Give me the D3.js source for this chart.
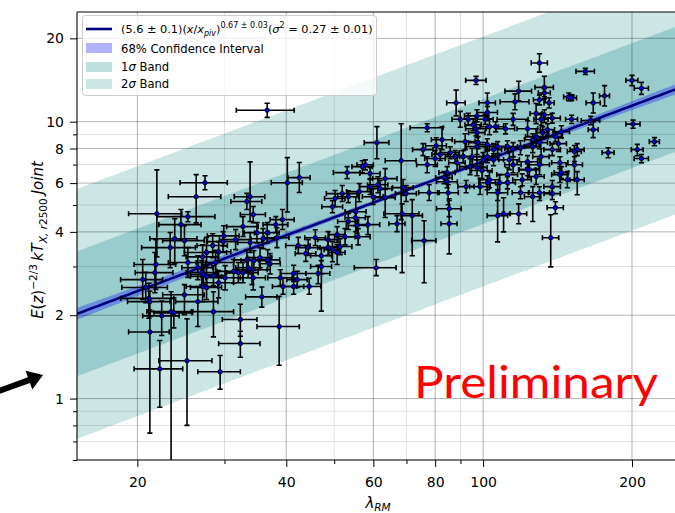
<!DOCTYPE html>
<html>
<head>
<meta charset="utf-8">
<script src="https://cdn.jsdelivr.net/npm/d3@7"></script>
<style>
  body { margin: 0; background: #fff; }
  svg { display: block; }
  text { font-family: "DejaVu Sans", sans-serif; }
</style>
</head>
<body>
<svg id="chart" width="675" height="513"></svg>
<script>
// Cluster richness (lambda_RM) and its error
const lambdaRM = [
  130,161,200,209,176,149,151,118,133,133, 116,130,136,167,165,167,151,201,222,179,
  205,209,96.8,102,102,97.2,101,103,96.8,106, 111,115,123,128,131,133,138,135,144,140,
  128,126,119,115,112,107,105,102,97.2,95.0, 100,113,123,131,138,142,155,153,143,130,
  124,120,112,108,103,98.6,107,119,126,138, 138,143,155,148,97.2,130,107,110,118,140,
  137,88.2,89.9,93.3,95.5,97.2,97.7,92.0,132,153, 144,99.5,102,112,123,128,115,94.1,105,130,
  126,102,92.4,
  77.1,61.0,68.3,63.4,61.3,61.9,59.9,63.4,68.9,69.9, 68.6,71.9,67.0,76.0,85.4,85.4,77.8,85.0,84.6,83.4,
  77.1,80.0,75.6,80.4,82.6,85.8,87.8,91.1,88.6,60.8, 59.1,81.9,84.6,58.5,
  42.5,53.1,57.0,57.8,59.1,56.2,51.9,53.4,50.2,49.6, 55.3,55.2,53.4,45.8,42.3,43.8,47.1,51.4,52.6,50.7,
  48.6,49.6,55.9,41.4,42.1,47.1,46.4,50.7,40.2,44.3, 55.6,38.9,44.5,48.6,41.4,39.4,
  36.6,27.4,26.3,21.9,25.3,33.3,33.8,34.3,38.1,39.3, 32.7,29.9,31.6,33.8,34.9,36.6,36.7,37.1,23.8,23.3,
  24.9,25.3,27.6,28.8,21.8,21.7,20.5,26.5,27.0,31.3, 32.0,32.7,33.5,34.1,34.3,30.1,29.2,27.6,27.1,20.8,
  24.9,27.6,27.2,28.5,29.2,29.8,33.3,34.4,35.4,35.9, 35.7,26.5,21.1,21.2,23.4,23.7,22.4,28.5,32.3,38.7,
  32.3,29.4,25.2,22.2,21.2,24.5,28.4,27.1,38.3
];
const lambdaErr = [
  4.9,6.9,5.6,6.9,4.1,3.5,3.5,7.3,5.7,3.7, 7.8,3.6,3.2,5.5,7.1,3.9,4.2,6.6,5.2,5.0,
  5.7,6.9,4.6,3.9,4.9,5.5,3.8,4.4,4.6,4.0, 4.8,8.3,5.9,3.6,4.3,5.1,5.3,4.5,5.5,4.6,
  6.2,4.8,6.8,4.4,5.4,4.1,4.0,4.9,4.7,5.4, 4.8,5.4,5.9,5.0,5.3,5.4,5.1,5.8,5.4,6.2,
  6.0,5.2,5.4,4.7,4.9,4.7,5.1,4.5,4.8,5.2, 5.3,5.4,5.1,4.9,4.7,6.2,5.1,3.1,4.5,5.3,
  5.2,3.8,3.4,3.1,3.6,3.7,4.2,4.4,3.7,5.0, 4.8,4.8,3.9,4.2,4.7,4.9,4.4,4.5,5.0,5.0,
  4.8,4.9,3.5,
  5.9,3.5,4.9,3.6,2.9,3.5,2.9,3.0,3.3,3.4, 5.6,3.5,2.5,4.3,3.2,4.9,3.7,4.1,4.1,3.2,
  3.7,3.8,3.6,3.9,4.0,3.7,3.8,3.9,3.4,5.9, 2.8,3.1,3.2,3.3,
  2.2,3.3,2.7,2.2,2.8,3.2,3.7,2.6,2.4,2.4, 2.7,2.6,2.6,2.2,2.4,2.1,2.3,2.9,2.5,1.9,
  2.3,1.9,3.2,2.4,2.0,2.3,2.6,1.9,2.9,2.5, 2.7,2.2,2.5,2.3,2.0,1.9,
  4.9,3.0,3.2,2.7,3.4,2.4,2.4,2.0,2.2,2.2, 2.4,2.2,2.3,1.9,2.0,2.1,2.1,1.8,2.6,2.9,
  2.4,2.2,2.7,2.5,2.1,1.9,2.0,1.9,1.9,2.3, 1.8,2.4,1.9,2.5,2.0,2.6,2.1,2.0,2.0,2.2,
  2.4,2.0,1.6,1.6,1.7,2.1,1.9,2.0,2.0,2.0, 2.6,2.6,2.6,2.1,2.5,2.1,1.9,2.8,2.6,3.8,
  3.1,2.9,3.1,2.5,2.0,2.4,2.0,2.0,2.2
];
// Scaled temperature E(z)^-2/3 kT (keV) with lower / upper errors
const kT = [
  16.3,15.2,14.1,13.2,12.4,12.3,12.2,12.9,13.3,12.7, 11.8,12.0,11.7,11.7,10.1,9.36,10.2,9.8,8.47,7.73,
  7.93,7.36,14.1,11.7,10.8,10.5,10.2,9.59,9.43,9.59, 9.43,10.2,9.43,10.7,10.2,10.6,10.3,9.36,9.2,8.83,
  8.83,8.61,8.06,7.99,8.13,8.13,7.93,8.26,8.13,7.48, 7.29,7.29,7.17,7.48,7.93,8.33,7.93,6.99,7.11,6.99,
  6.71,6.17,6.44,6.02,6.17,5.83,5.54,5.54,5.36,5.50, 5.83,6.44,6.17,6.17,6.82,5.54,4.58,4.65,4.65,4.89,
  3.81,11.7,10.2,10.2,9.75,9.13,8.40,8.47,9.13,7.80, 6.55,6.66,6.02,6.02,6.71,6.34,6.99,6.88,7.29,8.40,
  8.13,7.48,5.83,
  9.51,8.40,7.23,6.23,5.92,5.73,5.36,5.32,5.78,5.50, 4.65,4.58,4.28,3.72,4.28,4.85,5.54,5.54,6.07,6.28,
  6.99,7.36,7.93,8.19,8.61,7.73,7.48,7.48,7.11,2.97, 5.83,7.61,6.55,4.25,
  6.28,6.55,6.88,6.99,6.50,5.59,5.50,5.36,5.28,4.93, 4.73,4.50,4.36,3.81,3.57,3.34,3.28,3.54,3.84,3.91,
  3.75,3.45,3.84,2.83,2.69,3.00,2.83,3.37,6.02,3.51, 4.22,2.73,2.54,3.51,2.54,2.54,
  11.0,6.02,5.36,4.65,4.54,5.15,5.36,4.62,4.25,4.43, 4.18,3.87,3.75,3.66,3.97,3.97,3.17,3.07,3.78,3.51,
  3.72,3.10,3.37,3.10,3.05,2.85,2.69,2.97,2.85,2.88, 2.85,2.85,2.97,2.92,2.73,2.73,2.62,2.76,2.54,2.52,
  2.37,2.52,2.80,2.78,3.39,3.69,3.17,3.15,3.23,3.78, 2.33,2.24,2.30,2.24,2.06,2.04,1.99,2.06,1.93,1.82,
  1.58,1.25,1.37,1.28,1.74,4.25,3.57,3.25,3.81
];
const kTErrLow = [
  1.2,0.4,0.6,0.65,1.0,0.4,0.3,1.0,1.2,0.4, 0.75,0.5,0.5,0.95,0.35,0.6,0.35,0.33,0.28,0.32,
  0.4,0.25,0.47,0.94,0.7,0.5,0.42,0.62,0.54,0.4, 0.39,0.5,0.6,0.86,0.5,0.68,0.42,0.46,0.45,0.36,
  0.7,0.42,0.46,0.51,0.4,0.46,0.39,0.4,0.52,0.48, 0.42,0.58,0.35,0.48,0.39,0.53,0.39,0.82,0.35,0.56,
  0.43,0.3,0.37,0.48,0.4,0.37,0.35,0.27,1.0,0.27, 0.37,0.41,0.72,0.4,0.44,0.35,0.9,0.65,0.37,0.24,
  0.82,1.2,0.65,0.5,0.48,0.37,0.41,0.54,0.45,0.62, 0.32,0.43,0.34,0.3,0.33,0.41,0.45,0.44,0.36,0.41,
  0.4,0.37,0.29,
  0.31,1.05,2.8,0.5,0.38,0.37,0.34,0.81,0.37,0.35, 1.8,1.3,0.27,1.1,0.95,0.31,0.35,0.53,0.3,0.31,
  0.45,0.47,0.39,0.52,0.69,0.38,0.37,0.37,0.45,0.19, 0.37,0.37,0.32,0.34,
  0.73,0.32,0.34,0.29,0.32,0.45,0.35,0.26,0.34,0.24, 0.72,0.29,0.28,0.24,0.23,0.21,0.46,0.23,0.25,0.25,
  0.24,0.33,0.25,0.18,0.17,0.93,0.23,0.32,1.3,0.22, 0.27,0.17,0.16,0.22,0.16,0.16,
  0.63,0.34,1.05,1.4,0.19,0.33,1.0,0.3,0.27,0.35, 0.33,0.31,0.3,0.29,0.32,0.32,0.25,0.25,0.71,0.54,
  0.44,0.36,0.39,0.29,0.57,0.44,0.41,0.28,0.27,0.27, 0.23,0.23,0.24,0.34,0.26,0.26,0.31,0.26,0.3,0.3,
  0.36,0.24,0.22,0.22,0.27,0.3,0.25,0.25,0.26,0.3, 0.19,0.42,0.35,0.26,1.52,0.24,0.3,0.39,0.25,0.5,
  0.17,0.17,0.57,0.35,0.99,0.5,0.34,0.31,0.3
];
const kTErrHigh = [
  1.3,0.4,0.6,0.67,1.1,0.4,0.3,1.1,1.3,0.45, 0.8,0.5,0.5,1.0,0.35,0.65,0.35,0.33,0.29,0.32,
  0.35,0.25,0.48,1.0,0.55,0.54,0.43,0.66,0.57,0.4, 0.4,0.52,0.65,0.93,0.52,0.45,0.43,0.48,0.47,0.37,
  0.6,0.44,0.48,0.41,0.41,0.34,0.4,0.42,0.41,0.52, 0.44,0.5,0.37,0.52,0.4,0.42,0.4,0.48,0.36,0.36,
  0.46,0.31,0.39,0.42,0.43,0.4,0.38,0.28,0.47,0.28, 0.3,0.44,0.43,0.43,0.47,0.28,1.1,0.66,0.4,0.25,
  0.8,1.3,0.7,0.52,0.5,0.38,0.43,0.58,0.47,0.4, 0.33,0.46,0.36,0.31,0.34,0.44,0.48,0.47,0.37,0.43,
  0.41,0.38,0.3,
  0.32,1.2,2.6,0.54,0.41,0.4,0.37,0.37,0.4,0.38, 0.4,0.65,0.3,0.67,0.99,0.34,0.38,0.38,0.31,0.32,
  0.48,0.51,0.4,0.56,0.98,0.39,0.38,0.38,0.49,0.21, 0.4,0.39,0.33,0.29,
  0.84,0.33,0.35,0.29,0.33,0.39,0.38,0.27,0.36,0.25, 0.63,0.31,0.3,0.26,0.25,0.23,0.23,0.24,0.27,0.27,
  0.26,0.24,0.27,0.2,0.19,0.15,0.2,0.23,1.4,0.24, 0.29,0.19,0.18,0.24,0.18,0.18,
  0.66,0.36,1.08,2.05,0.19,0.36,1.8,0.32,0.29,0.39, 0.36,0.34,0.33,0.32,0.35,0.35,0.28,0.27,0.68,0.47,
  0.49,0.41,0.45,0.33,0.7,0.52,0.49,0.31,0.3,0.3, 0.25,0.25,0.26,0.25,0.24,0.29,0.28,0.29,0.34,0.34,
  0.21,0.26,0.24,0.24,0.3,0.32,0.28,0.27,0.28,0.33, 0.2,0.3,0.31,0.2,0.37,0.27,0.26,0.37,0.26,0.52,
  0.17,0.18,0.57,0.34,0.35,0.57,0.37,0.34,0.33
];

// Best-fit scaling relation and its parameters
const fitNorm = 5.6, fitNormErr = 0.1;
const fitSlope = 0.67, fitSlopeErr = 0.03;
const fitScatterVar = 0.27;
const lambdaPivot = 69;

// Axis ticks
const xTicksLabeled = [20, 40, 60, 80, 100, 200];
const xTicksMinor = [30, 50, 70, 90];
const yTicksLabeled = [1, 2, 4, 6, 8, 10, 20];
const yTicksMinor = [0.6, 0.7, 0.8, 0.9, 3, 5, 7, 9];

const legendLabels = ["68% Confidence Interval", "1\u03C3 Band", "2\u03C3 Band"];

const L = 77, T = 12, R = 690, B = 460;
const x = d3.scaleLog().domain([15.1, 262]).range([L, R]);
const y = d3.scaleLog().domain([0.6, 24.9]).range([B, T]);

const svg = d3.select("#chart");
svg.append("defs").append("clipPath").attr("id", "plotClip")
  .append("rect").attr("x", L).attr("y", T).attr("width", R - L).attr("height", B - T);

const plot = svg.append("g").attr("clip-path", "url(#plotClip)");

const sigma = Math.sqrt(fitScatterVar);
const fit = l => fitNorm * Math.pow(l / lambdaPivot, fitSlope);
const ciFrac = l => Math.sqrt(Math.pow(fitNormErr / fitNorm, 2) +
                              Math.pow(fitSlopeErr * Math.log(l / lambdaPivot), 2));
const xDom = x.domain();
const curveLambda = d3.range(0, 241).map(i => xDom[0] * Math.pow(xDom[1] / xDom[0], i / 240));

const scatterBand = k => d3.area()
  .x(l => x(l))
  .y0(l => y(fit(l) * Math.exp(-k * sigma)))
  .y1(l => y(fit(l) * Math.exp(k * sigma)));

// 2-sigma and 1-sigma intrinsic scatter bands
plot.append("path").datum(curveLambda).attr("d", scatterBand(2))
  .attr("fill", "teal").attr("fill-opacity", 0.2);
plot.append("path").datum(curveLambda).attr("d", scatterBand(1))
  .attr("fill", "teal").attr("fill-opacity", 0.25);

// grid
const grid = plot.append("g");
const vLine = (v, op) => grid.append("line")
  .attr("x1", x(v)).attr("x2", x(v)).attr("y1", T).attr("y2", B)
  .attr("stroke", "#000").attr("stroke-opacity", op).attr("stroke-width", 1);
const hLine = (v, op) => grid.append("line")
  .attr("y1", y(v)).attr("y2", y(v)).attr("x1", L).attr("x2", R)
  .attr("stroke", "#000").attr("stroke-opacity", op).attr("stroke-width", 1);
xTicksMinor.forEach(v => vLine(v, 0.12));
xTicksLabeled.forEach(v => vLine(v, 0.3));
yTicksMinor.forEach(v => hLine(v, 0.12));
yTicksLabeled.forEach(v => hLine(v, 0.3));

// 68% confidence interval of the fit, then the fit itself
plot.append("path").datum(curveLambda)
  .attr("d", d3.area().x(l => x(l))
    .y0(l => y(fit(l) * Math.exp(-ciFrac(l))))
    .y1(l => y(fit(l) * Math.exp(ciFrac(l)))))
  .attr("fill", "blue").attr("fill-opacity", 0.3);
plot.append("path").datum(curveLambda)
  .attr("d", d3.line().x(l => x(l)).y(l => y(fit(l))))
  .attr("fill", "none").attr("stroke", "navy").attr("stroke-width", 2.6);

// error bars
const n = Math.min(lambdaRM.length, lambdaErr.length, kT.length, kTErrLow.length, kTErrHigh.length);
const pts = d3.range(n).map(i => ({
  l: lambdaRM[i], le: lambdaErr[i], t: kT[i], lo: kTErrLow[i], hi: kTErrHigh[i]
}));
const cap = 2.6;
const bars = plot.append("g").attr("stroke", "#000").attr("stroke-width", 1.6).attr("fill", "none");
pts.forEach(p => {
  const cx = x(p.l), cy = y(p.t);
  const x0 = x(p.l - p.le), x1 = x(p.l + p.le);
  const y0 = y(p.t - p.lo), y1 = y(p.t + p.hi);
  bars.append("path").attr("d",
    `M${x0},${cy}H${x1}` +
    `M${x0},${cy - cap}V${cy + cap}M${x1},${cy - cap}V${cy + cap}` +
    `M${cx},${y0}V${y1}` +
    `M${cx - cap},${y0}H${cx + cap}M${cx - cap},${y1}H${cx + cap}`);
});
plot.append("g").selectAll("circle").data(pts).join("circle")
  .attr("cx", p => x(p.l)).attr("cy", p => y(p.t)).attr("r", 2.2)
  .attr("fill", "#0000dd").attr("stroke", "#000").attr("stroke-width", 0.9);

// axes
function styleAxis(g) {
  g.select(".domain").remove();
  g.selectAll(".tick line").attr("stroke", "#000").attr("stroke-width", 1);
  g.selectAll(".tick text").attr("fill", "#000")
    .style("font-family", "DejaVu Sans").style("font-size", "14px");
}
svg.append("g").attr("transform", `translate(${L},0)`)
  .call(d3.axisLeft(y).tickValues(yTicksLabeled).tickFormat(d => String(d)).tickSize(7).tickPadding(6))
  .call(styleAxis);
svg.append("g").attr("transform", `translate(${L},0)`)
  .call(d3.axisLeft(y).tickValues(yTicksMinor).tickFormat("").tickSize(4))
  .call(styleAxis);
svg.append("g").attr("transform", `translate(0,${B})`)
  .call(d3.axisBottom(x).tickValues(xTicksLabeled).tickFormat(d => String(d)).tickSize(7).tickPadding(10))
  .call(styleAxis);
svg.append("g").attr("transform", `translate(0,${B})`)
  .call(d3.axisBottom(x).tickValues(xTicksMinor).tickFormat("").tickSize(4))
  .call(styleAxis);

// spines
const spines = svg.append("g").attr("stroke", "#000").attr("stroke-width", 1.1);
spines.append("line").attr("x1", L).attr("x2", L).attr("y1", T).attr("y2", B);
spines.append("line").attr("x1", L).attr("x2", R).attr("y1", B).attr("y2", B);
spines.append("line").attr("x1", L).attr("x2", R).attr("y1", T).attr("y2", T);

// axis titles
const xl = svg.append("text").attr("x", 378).attr("y", 508).attr("text-anchor", "middle")
  .style("font-size", "15px");
xl.append("tspan").style("font-style", "italic").text("\u03BB");
xl.append("tspan").attr("dy", 3).style("font-size", "10.5px").style("font-style", "italic").text("RM");

const yl = svg.append("text").attr("transform", "translate(43,240) rotate(-90)")
  .attr("text-anchor", "middle").style("font-size", "15px");
yl.append("tspan").style("font-style", "italic").text("E");
yl.append("tspan").text("(");
yl.append("tspan").style("font-style", "italic").text("z");
yl.append("tspan").text(")");
yl.append("tspan").attr("dy", -6).style("font-size", "10.5px").text("\u22122/3");
yl.append("tspan").attr("dy", 6).attr("dx", 3).style("font-style", "italic").text("kT");
yl.append("tspan").attr("dy", 4).style("font-size", "10.5px").style("font-style", "italic").text("X, r");
yl.append("tspan").style("font-size", "10.5px").text("2500");
yl.append("tspan").attr("dy", -4).attr("dx", 4).style("font-style", "italic").text("Joint");

// legend
const lg = svg.append("g");
lg.append("rect").attr("x", 82.5).attr("y", 15.5).attr("width", 294).attr("height", 80).attr("rx", 3)
  .attr("fill", "#fff").attr("fill-opacity", 0.8).attr("stroke", "#cccccc").attr("stroke-width", 1);
lg.append("line").attr("x1", 86).attr("x2", 112).attr("y1", 29).attr("y2", 29)
  .attr("stroke", "navy").attr("stroke-width", 2.6);
lg.append("rect").attr("x", 86).attr("y", 43).attr("width", 26).attr("height", 10)
  .attr("fill", "blue").attr("fill-opacity", 0.3);
lg.append("rect").attr("x", 86).attr("y", 62).attr("width", 26).attr("height", 10)
  .attr("fill", "teal").attr("fill-opacity", 0.25);
lg.append("rect").attr("x", 86).attr("y", 79).attr("width", 26).attr("height", 10)
  .attr("fill", "teal").attr("fill-opacity", 0.2);

const ft = lg.append("text").attr("x", 121).attr("y", 33).style("font-size", "11.3px");
ft.append("tspan").text(`(${fitNorm} \u00B1 ${fitNormErr})(`);
ft.append("tspan").style("font-style", "italic").text("x");
ft.append("tspan").text("/");
ft.append("tspan").style("font-style", "italic").text("x");
ft.append("tspan").attr("dy", 3).style("font-size", "8px").style("font-style", "italic").text("piv");
ft.append("tspan").attr("dy", -3).text(")");
ft.append("tspan").attr("dy", -5).style("font-size", "8px").text(`${fitSlope} \u00B1 ${fitSlopeErr}`);
ft.append("tspan").attr("dy", 5).text("(");
ft.append("tspan").style("font-style", "italic").text("\u03C3");
ft.append("tspan").attr("dy", -5).style("font-size", "8px").text("2");
ft.append("tspan").attr("dy", 5).text(` = ${fitScatterVar} \u00B1 0.01)`);

[53, 71, 88].forEach((yy, i) => {
  const t = lg.append("text").attr("x", 121).attr("y", yy).style("font-size", "11.6px");
  const s = legendLabels[i];
  const k = s.indexOf("\u03C3");
  if (k >= 0) {
    t.append("tspan").text(s.slice(0, k));
    t.append("tspan").style("font-style", "italic").text("\u03C3");
    t.append("tspan").text(s.slice(k + 1));
  } else {
    t.text(s);
  }
});

// watermark
svg.append("text").attr("x", 414).attr("y", 398)
  .attr("textLength", 244).attr("lengthAdjust", "spacingAndGlyphs")
  .style("font-family", "Lato, 'Open Sans', sans-serif").style("font-size", "45px")
  .attr("fill", "#ff0000").text("Preliminary");

// pointer arrow at the left edge
(function () {
  const tip = [43, 375], ang = -20 * Math.PI / 180;
  const ux = Math.cos(ang), uy = Math.sin(ang), nx = -uy, ny = ux;
  const headLen = 15, headHalf = 10, shaftHalf = 3;
  const bx = tip[0] - headLen * ux, by = tip[1] - headLen * uy;
  const sx = tip[0] - 70 * ux, sy = tip[1] - 70 * uy;
  const pts2 = [
    [sx + shaftHalf * nx, sy + shaftHalf * ny],
    [bx + shaftHalf * nx, by + shaftHalf * ny],
    [bx + headHalf * nx, by + headHalf * ny],
    tip,
    [bx - headHalf * nx, by - headHalf * ny],
    [bx - shaftHalf * nx, by - shaftHalf * ny],
    [sx - shaftHalf * nx, sy - shaftHalf * ny]
  ];
  svg.append("path").attr("d", "M" + pts2.map(p => p.join(",")).join("L") + "Z").attr("fill", "#000");
})();
</script>
</body>
</html>
